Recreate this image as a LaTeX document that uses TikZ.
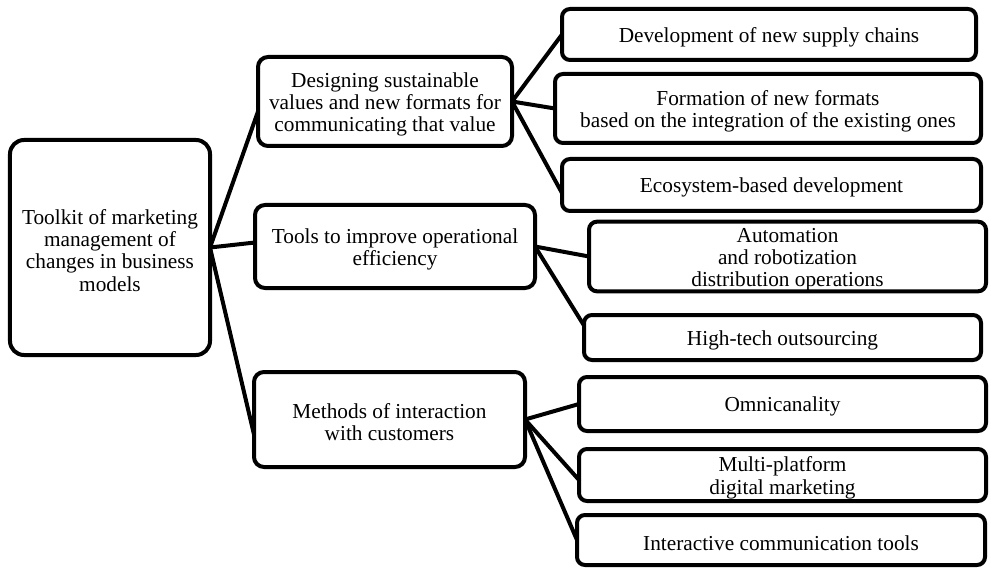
\documentclass[tikz,border=0pt]{standalone}
\usepackage{fontspec}
\setmainfont{Liberation Serif}
\usetikzlibrary{calc}
\newcommand\topgap{\rule{0pt}{20.5bp}}
\tikzset{
  box/.style={draw=black, line width=4bp, rounded corners=8bp, fill=white,
    align=center, inner sep=0pt, outer sep=0pt,
    font=\fontsize{21.3bp}{22.3bp}\selectfont},
  link/.style={draw=black, line width=4bp, line cap=round}
}
\begin{document}
\begin{tikzpicture}[x=1bp,y=-1bp]
\useasboundingbox[fill=white] (0,0) rectangle (991,572);
% root
\node[box, rounded corners=14bp, minimum width=200bp, minimum height=215bp] (root) at (110,247.5)
  {\topgap Toolkit of marketing\\management of\\changes in business\\models};
% level 2
\node[box, rounded corners=10bp, minimum width=254bp, minimum height=89bp] (A) at (385,101.5)
  {\topgap Designing sustainable\\values and new formats for\\communicating that value};
\node[box, rounded corners=10bp, minimum width=280bp, minimum height=83bp] (B) at (395,246.5)
  {\topgap Tools to improve operational\\efficiency};
\node[box, rounded corners=10bp, minimum width=271bp, minimum height=95bp] (C) at (389.5,419.5)
  {\topgap Methods of interaction\\with customers};
% level 3
\node[box, minimum width=414bp, minimum height=51bp] (D1) at (769,34.5)
  {\topgap Development of new supply chains};
\node[box, minimum width=426bp, minimum height=69bp] (D2) at (768,108.5)
  {\topgap Formation of new formats\\based on the integration of the existing ones};
\node[box, minimum width=419bp, minimum height=52bp] (D3) at (771.5,185)
  {\topgap Ecosystem-based development};
\node[box, minimum width=397bp, minimum height=69bp] (E1) at (787.5,256.5)
  {\topgap Automation\\and robotization\\distribution operations};
\node[box, minimum width=397bp, minimum height=45bp] (E2) at (782.5,337.5)
  {\topgap High-tech outsourcing};
\node[box, minimum width=407bp, minimum height=54bp] (F1) at (782.5,404)
  {\topgap Omnicanality};
\node[box, minimum width=407bp, minimum height=52bp] (F2) at (782.5,475)
  {\topgap Multi-platform\\digital marketing};
\node[box, minimum width=408bp, minimum height=50bp] (F3) at (781,540)
  {\topgap Interactive communication tools};
% connectors
\draw[link] (root.east) -- ($(A.west)+(0,10)$);
\draw[link] (root.east) -- ($(B.west)+(0,-4)$);
\draw[link] (root.east) -- ($(C.west)+(0,15)$);
\draw[link] (A.east) -- (D1.west);
\draw[link] (A.east) -- (D2.west);
\draw[link] (A.east) -- ($(D3.west)+(0,8)$);
\draw[link] (B.east) -- (E1.west);
\draw[link] (B.east) -- ($(E2.west)+(0,-12)$);
\draw[link] (C.east) -- (F1.west);
\draw[link] (C.east) -- ($(F2.west)+(0,5)$);
\draw[link] (C.east) -- (F3.west);
\end{tikzpicture}
\end{document}
